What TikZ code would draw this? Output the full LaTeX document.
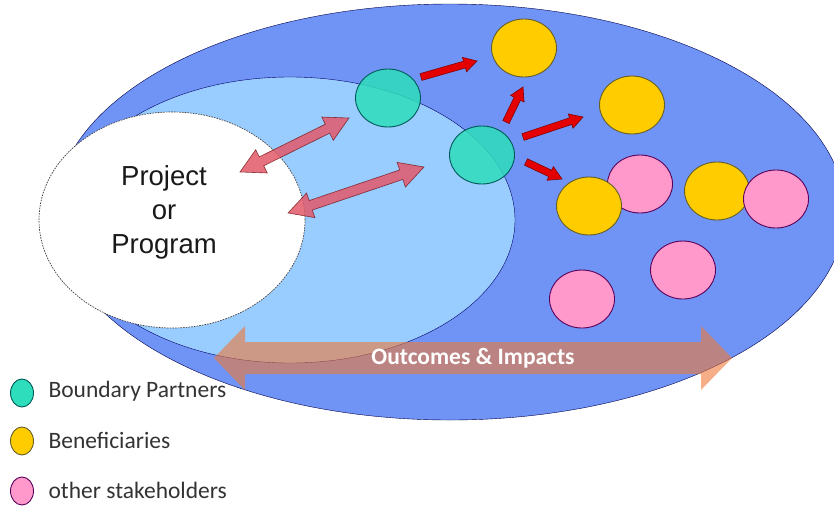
\documentclass[tikz,border=0pt]{standalone}
\usepackage{fontspec}
\usetikzlibrary{shapes.geometric,calc}
\newfontfamily\arialfont{Liberation Sans}
\newfontfamily\calibrifont{Carlito}
\definecolor{outerblue}{HTML}{7094F5}
\definecolor{innerblue}{HTML}{99CCFF}
\definecolor{partner}{HTML}{2EDDBB}
\definecolor{benef}{HTML}{FFCC00}
\definecolor{stake}{HTML}{FF99CC}
\definecolor{linkred}{HTML}{E25A6A}
\definecolor{impact}{HTML}{F07838}

% block arrow: style, tail, tip, half shaft, half head, head length
\newcommand{\blockarrow}[6]{%
  \coordinate (ba-t) at (#2);
  \coordinate (ba-p) at (#3);
  \coordinate (ba-b) at ($(ba-p)!#6!(ba-t)$);
  \draw[#1] ($(ba-t)!#4!90:(ba-p)$) -- ($(ba-b)!#4!-90:(ba-t)$) -- ($(ba-b)!#5!-90:(ba-t)$)
    -- (ba-p) -- ($(ba-b)!#5!90:(ba-t)$) -- ($(ba-b)!#4!90:(ba-t)$) -- ($(ba-t)!#4!-90:(ba-p)$) -- cycle;
}
% same with a head at both ends
\newcommand{\blockarrowboth}[6]{%
  \coordinate (da-a) at (#2);
  \coordinate (da-b) at (#3);
  \coordinate (da-ha) at ($(da-a)!#6!(da-b)$);
  \coordinate (da-hb) at ($(da-b)!#6!(da-a)$);
  \draw[#1] (da-a) -- ($(da-ha)!#5!90:(da-b)$) -- ($(da-ha)!#4!90:(da-b)$) -- ($(da-hb)!#4!-90:(da-a)$)
    -- ($(da-hb)!#5!-90:(da-a)$) -- (da-b) -- ($(da-hb)!#5!90:(da-a)$) -- ($(da-hb)!#4!90:(da-a)$)
    -- ($(da-ha)!#4!-90:(da-b)$) -- ($(da-ha)!#5!-90:(da-b)$) -- cycle;
}

\begin{document}
\begin{tikzpicture}[x=1pt, y=-1pt,
    blob/.style={ellipse, draw, line width=0.9pt, minimum width=65pt, minimum height=58pt, inner sep=0pt},
    partnerdot/.style={blob, fill=partner, fill opacity=0.85, draw=teal!70!black},
    benefdot/.style={blob, fill=benef, draw=olive!60!black},
    stakedot/.style={blob, fill=stake, draw=violet!70!black},
    keydot/.style={ellipse, draw, line width=0.9pt, minimum width=23pt, minimum height=28pt, inner sep=0pt},
    keytext/.style={anchor=west, text=black!80, font=\calibrifont\fontsize{23.5}{28}\selectfont},
    redarrow/.style={fill=red!90!black, draw=red!50!black, line width=0.6pt},
    linkarrow/.style={fill=linkred, fill opacity=0.85, draw=red!40!black, draw opacity=0.7, line width=0.6pt},
    impactarrow/.style={fill=impact, fill opacity=0.6, draw=none}]
  \useasboundingbox (0,0) rectangle (834,509);

  % spheres
  \node[ellipse, draw=blue!30!black, fill=outerblue, minimum width=790pt, minimum height=416pt] (world) at (450,212) {};
  \node[ellipse, draw=blue!40!black, fill=innerblue, minimum width=450pt, minimum height=286pt] (reach) at (290,220) {};
  \node[ellipse, draw=black!75, fill=white, line width=0.7pt, dash pattern=on 1.6pt off 1.1pt, minimum width=266pt, minimum height=216pt] (prog) at (172,220) {};
  \node[align=center, font=\arialfont\fontsize{27.5}{34}\selectfont, text=black!90] (progtext) at (164,212) {Project\\or\\Program};

  % stakeholders
  \node[partnerdot] (bp1) at (388,98) {};
  \node[partnerdot] (bp2) at (482,155) {};
  \node[benefdot] (y1) at (524,48) {};
  \node[benefdot] (y2) at (632,105) {};
  \node[stakedot] (p1) at (640,184) {};
  \node[benefdot] (y3) at (589,206) {};
  \node[benefdot] (y4) at (717,191) {};
  \node[stakedot] (p2) at (776,199) {};
  \node[stakedot] (p3) at (582,299) {};
  \node[stakedot] (p4) at (683,270) {};

  % links
  \blockarrowboth{linkarrow}{$(prog)+(68,-48)$}{$(bp1)+(-39,20)$}{5pt}{13pt}{24pt}
  \blockarrowboth{linkarrow}{$(prog)+(116,-7)$}{$(bp2)+(-58,12)$}{5pt}{13pt}{24pt}
  \blockarrow{redarrow}{$(bp1)+(33,-21)$}{$(y1)+(-47,13)$}{3.5pt}{7.5pt}{13pt}
  \blockarrow{redarrow}{$(bp2)+(24,-33)$}{$(y1)+(-1,39)$}{3.5pt}{7.5pt}{13pt}
  \blockarrow{redarrow}{$(bp2)+(41,-18)$}{$(y2)+(-49,12)$}{3.5pt}{7.5pt}{13pt}
  \blockarrow{redarrow}{$(bp2)+(44,7)$}{$(y3)+(-27,-27)$}{3.5pt}{7.5pt}{13pt}

  % outcomes
  \coordinate (oi) at (473,358);
  \blockarrowboth{impactarrow}{$(oi)+(-259,0)$}{$(oi)+(259,0)$}{16pt}{32pt}{31pt}
  \node[text=white, font=\calibrifont\bfseries\fontsize{23.5}{28}\selectfont] (oitext) at (oi) {Outcomes \& Impacts};

  % key
  \node[keydot, fill=partner, draw=teal!70!black] (k1) at (22,393) {};
  \node[keydot, fill=benef, draw=olive!60!black] (k2) at (22,441) {};
  \node[keydot, fill=stake, draw=violet!70!black] (k3) at (22,491) {};
  \node[keytext] (k1text) at (45,391) {Boundary Partners};
  \node[keytext] (k2text) at (45,440) {Beneficiaries};
  \node[keytext] (k3text) at (45,490) {other stakeholders};
\end{tikzpicture}
\end{document}
